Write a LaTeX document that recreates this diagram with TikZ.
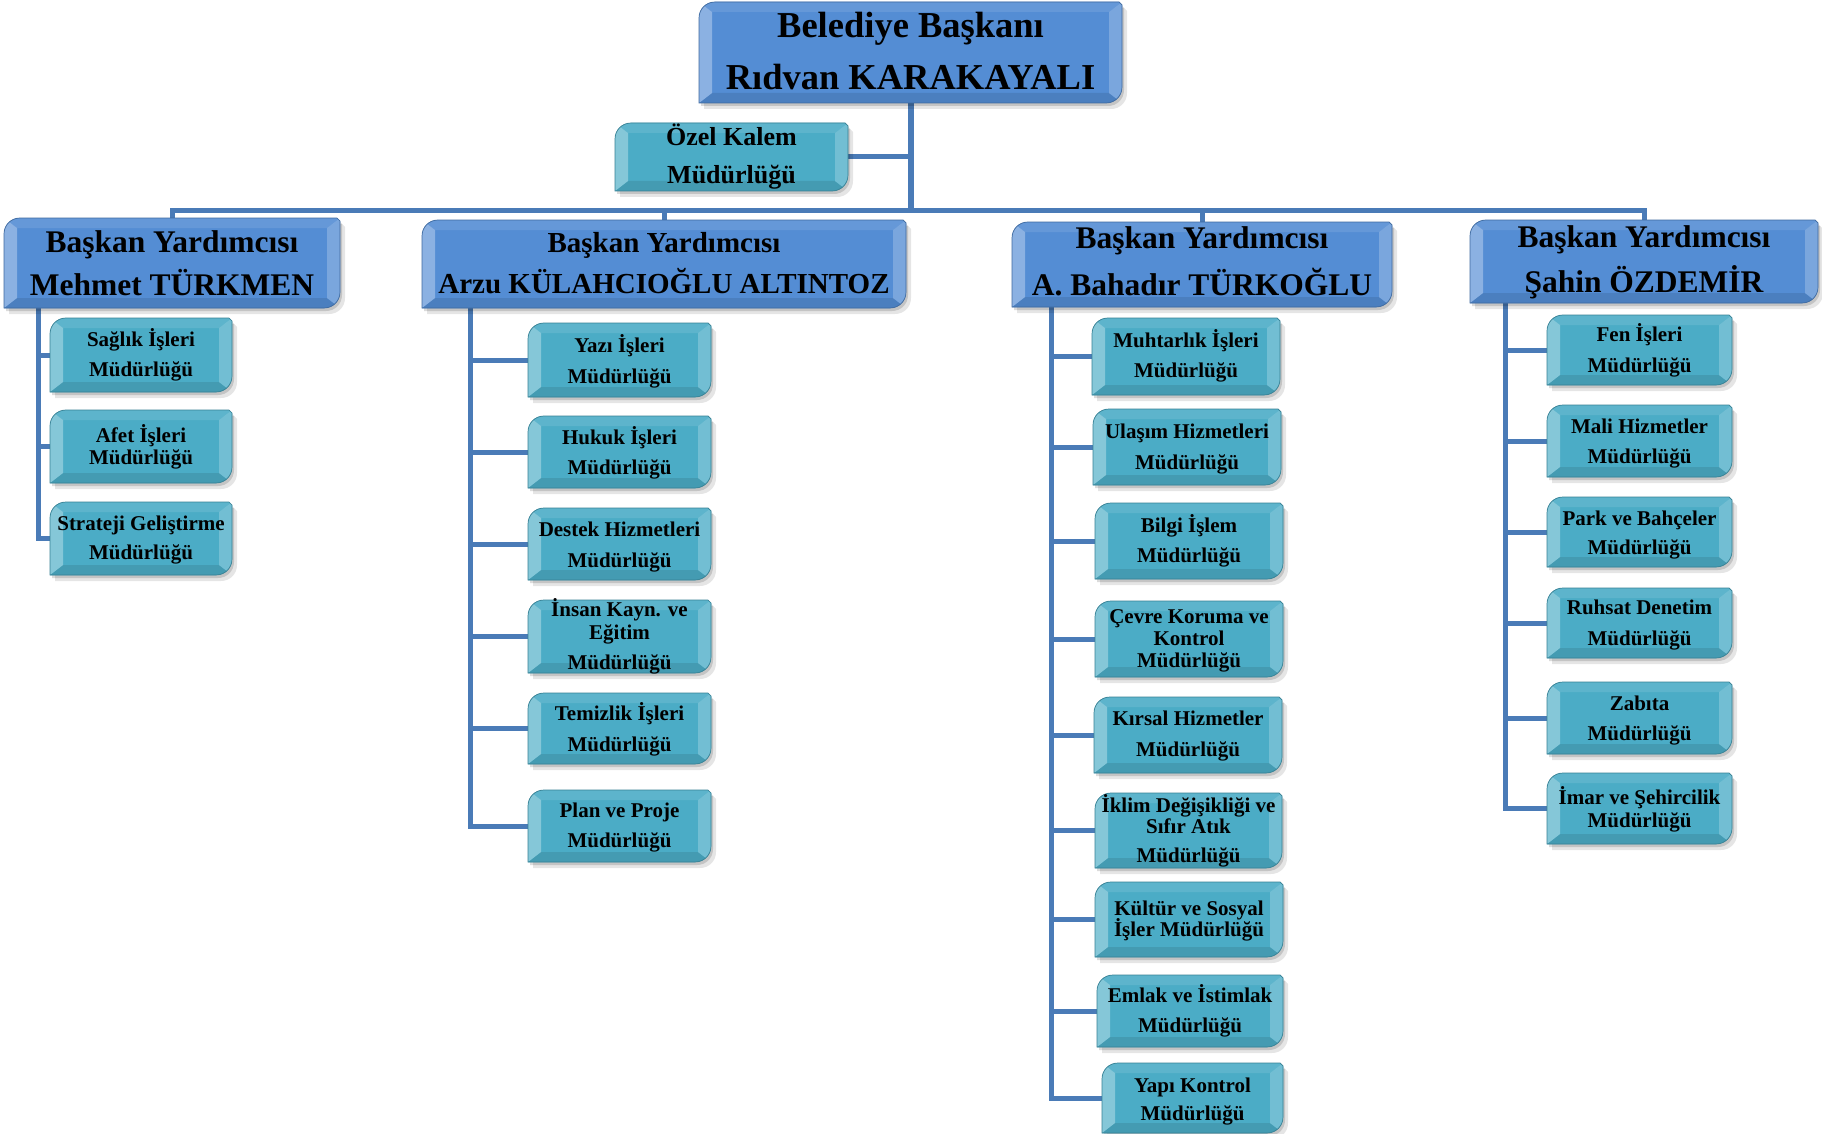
\documentclass[tikz,border=0pt]{standalone}
\usepackage{fontspec}
\setmainfont{Liberation Serif}
\usetikzlibrary{calc}
\definecolor{lvcol}{HTML}{548DD4}
\definecolor{chcol}{HTML}{4BACC6}
\definecolor{lncol}{HTML}{4A7BB7}
\pgfdeclarelayer{bgw}\pgfdeclarelayer{conn}\pgfdeclarelayer{bg}
\pgfsetlayers{bgw,conn,bg,main}
\def\rr{16pt}\def\rc{7pt}\def\bdx{13pt}\def\bdy{10pt}
\newcommand\shp[1]{($(#1.north west)+(0pt,-\rr)$) .. controls ($(#1.north west)+(0pt,-\rc)$) and ($(#1.north west)+(\rc,0pt)$) .. ($(#1.north west)+(\rr,0pt)$) -- ($(#1.north east)+(-3pt,0pt)$) -- ($(#1.north east)+(0pt,-3pt)$) -- ($(#1.south east)+(0pt,\rr)$) .. controls ($(#1.south east)+(0pt,\rc)$) and ($(#1.south east)+(-\rc,0pt)$) .. ($(#1.south east)+(-\rr,0pt)$) -- (#1.south west) -- cycle}
\newcommand\bev[2]{%
 \begin{pgfonlayer}{bg}
  \fill[black,opacity=.10,transform canvas={xshift=5pt,yshift=-6pt}] \shp{#1};
  \fill[black,opacity=.14,transform canvas={xshift=2pt,yshift=-3pt}] \shp{#1};
  \fill[#2] \shp{#1};
  \begin{scope}
   \clip \shp{#1};
   \fill[#2!90!white] (#1.north west) -- (#1.north east) -- ($(#1.north east)+(-\bdx,-\bdy)$) -- ($(#1.north west)+(\bdx,-\bdy)$) -- cycle;
   \fill[#2!90!black] (#1.south west) -- (#1.south east) -- ($(#1.south east)+(-\bdx,\bdy)$) -- ($(#1.south west)+(\bdx,\bdy)$) -- cycle;
   \fill[#2!68!white] (#1.north west) -- ($(#1.north west)+(\bdx,-\bdy)$) -- ($(#1.south west)+(\bdx,\bdy)$) -- (#1.south west) -- cycle;
   \fill[#2!78!white] (#1.north east) -- ($(#1.north east)+(-\bdx,-\bdy)$) -- ($(#1.south east)+(-\bdx,\bdy)$) -- (#1.south east) -- cycle;
  \end{scope}
  \draw[#2!75!black,line width=.7pt] \shp{#1};
 \end{pgfonlayer}}
\newcommand\bx[8]{%
 \node[#1,minimum width=#5pt,minimum height=#6pt] (#3) at (#4)
  {\raisebox{#7pt}{\begin{tabular}[t]{@{}c@{}}#8\end{tabular}}};
 \bev{#3}{#2}}
\tikzset{
 boxbase/.style={rectangle,inner sep=0pt,outer sep=0pt,text height=0pt,text depth=0pt},
 topbox/.style={boxbase,font=\fontsize{36.5}{52}\selectfont\bfseries},
 ozelbox/.style={boxbase,font=\fontsize{26}{32}\selectfont\bfseries},
 lvbox/.style={boxbase,font=\fontsize{31.5}{43}\selectfont\bfseries},
 lvboxs/.style={boxbase,font=\fontsize{29}{41}\selectfont\bfseries},
 chbox/.style={boxbase,font=\fontsize{21}{30}\selectfont\bfseries},
 conn/.style={draw=lncol,line width=5pt},
}
\begin{document}
\begin{tikzpicture}[x=1pt,y=-1pt]
\begin{pgfonlayer}{bgw}\fill[white] (0,0) rectangle (1822,1134);\end{pgfonlayer}
\useasboundingbox (0,0) rectangle (1822,1134);
% top level
\bx{topbox}{lvcol}{top}{910.5,52.5}{423}{101}{14.5}{Belediye Başkanı\\Rıdvan KARAKAYALI}
\bx{ozelbox}{chcol}{ozel}{731.5,157}{233}{68}{11}{Özel Kalem\\[6pt]Müdürlüğü}
% deputies
\bx{lvbox}{lvcol}{mehmet}{172,263}{336}{90}{11}{Başkan Yardımcısı\\Mehmet TÜRKMEN}
\bx{lvboxs}{lvcol}{arzu}{664,264}{484}{88}{12}{Başkan Yardımcısı\\Arzu KÜLAHCIOĞLU ALTINTOZ}
\bx{lvbox}{lvcol}{bahadir}{1202,264.5}{380}{85}{16.5}{Başkan Yardımcısı\\[4pt]A. Bahadır TÜRKOĞLU}
\bx{lvbox}{lvcol}{sahin}{1644,261.5}{348}{83}{14.5}{Başkan Yardımcısı\\[2pt]Şahin ÖZDEMİR}
% Mehmet
\bx{chbox}{chcol}{sag}{141,355}{182}{74}{9}{Sağlık İşleri\\Müdürlüğü}
\bx{chbox}{chcol}{afet}{141,446.5}{182}{73}{4.5}{Afet İşleri\\[-8pt]Müdürlüğü}
\bx{chbox}{chcol}{stra}{141,538.5}{182}{73}{8.5}{Strateji Geliştirme\\[-1pt]Müdürlüğü}
% Arzu
\bx{chbox}{chcol}{yazi}{619.5,360}{183}{74}{8}{Yazı İşleri\\[1pt]Müdürlüğü}
\bx{chbox}{chcol}{hukuk}{619.5,452}{183}{72}{8}{Hukuk İşleri\\Müdürlüğü}
\bx{chbox}{chcol}{destek}{619.5,544}{183}{72}{8}{Destek Hizmetleri\\[1pt]Müdürlüğü}
\bx{chbox}{chcol}{insan}{619.5,636.5}{183}{73}{20.5}{İnsan Kayn. ve\\[-7pt]Eğitim\\Müdürlüğü}
\bx{chbox}{chcol}{temiz}{619.5,728.5}{183}{71}{8.5}{Temizlik İşleri\\[1pt]Müdürlüğü}
\bx{chbox}{chcol}{plan}{619.5,826}{183}{72}{9}{Plan ve Proje\\Müdürlüğü}
% Bahadir
\bx{chbox}{chcol}{muhtar}{1186,356.5}{188}{77}{9.5}{Muhtarlık İşleri\\Müdürlüğü}
\bx{chbox}{chcol}{ulasim}{1187,447}{188}{76}{9}{Ulaşım Hizmetleri\\[1pt]Müdürlüğü}
\bx{chbox}{chcol}{bilgi}{1189,541}{188}{76}{9}{Bilgi İşlem\\Müdürlüğü}
\bx{chbox}{chcol}{cevre}{1189,639}{188}{76}{16}{Çevre Koruma ve\\[-8pt]Kontrol\\[-8pt]Müdürlüğü}
\bx{chbox}{chcol}{kirsal}{1188,735}{188}{76}{10}{Kırsal Hizmetler\\[1pt]Müdürlüğü}
\bx{chbox}{chcol}{iklim}{1188.5,830.5}{187}{75}{18.5}{İklim Değişikliği ve\\[-9pt]Sıfır Atık\\[-1pt]Müdürlüğü}
\bx{chbox}{chcol}{kultur}{1189,919.5}{188}{75}{4.5}{Kültür ve Sosyal\\[-9pt]İşler Müdürlüğü}
\bx{chbox}{chcol}{emlak}{1190,1011}{186}{72}{9}{Emlak ve İstimlak\\Müdürlüğü}
\bx{chbox}{chcol}{yapi}{1192.5,1098}{181}{70}{6}{Yapı Kontrol\\[-2pt]Müdürlüğü}
% Sahin
\bx{chbox}{chcol}{fen}{1639.5,350}{185}{70}{9}{Fen İşleri\\[1pt]Müdürlüğü}
\bx{chbox}{chcol}{mali}{1639.5,441}{185}{72}{8}{Mali Hizmetler\\Müdürlüğü}
\bx{chbox}{chcol}{park}{1639.5,532}{185}{70}{7}{Park ve Bahçeler\\[-1pt]Müdürlüğü}
\bx{chbox}{chcol}{ruhsat}{1639.5,623}{185}{70}{9}{Ruhsat Denetim\\[1pt]Müdürlüğü}
\bx{chbox}{chcol}{zabita}{1639.5,718}{185}{72}{8}{Zabıta\\Müdürlüğü}
\bx{chbox}{chcol}{imar}{1639.5,808.5}{185}{71}{4.5}{İmar ve Şehircilik\\[-7pt]Müdürlüğü}
% connectors
\begin{pgfonlayer}{conn}
 \coordinate (bar) at (0,210);
 \draw[conn,line width=6pt] (top.south) -- (top.south |- bar);
 \draw[conn] (ozel.east) -- (ozel.east -| top.south);
 \draw[conn] (mehmet.north) -- (mehmet.north |- bar) -- (sahin.north |- bar) -- (sahin.north);
 \draw[conn] (arzu.north) -- (arzu.north |- bar);
 \draw[conn] (bahadir.north) -- (bahadir.north |- bar);
 \coordinate (mS) at ($(mehmet.south west)+(34pt,0pt)$);
 \draw[conn] (mS) |- (stra.west);
 \foreach \n in {sag,afet} \draw[conn] (\n.west) -- (\n.west -| mS);
 \coordinate (aS) at ($(arzu.south west)+(48pt,0pt)$);
 \draw[conn] (aS) |- (plan.west);
 \foreach \n in {yazi,hukuk,destek,insan,temiz} \draw[conn] (\n.west) -- (\n.west -| aS);
 \coordinate (bS) at ($(bahadir.south west)+(39pt,0pt)$);
 \draw[conn] (bS) |- (yapi.west);
 \foreach \n in {muhtar,ulasim,bilgi,cevre,kirsal,iklim,kultur,emlak} \draw[conn] (\n.west) -- (\n.west -| bS);
 \coordinate (sS) at ($(sahin.south west)+(35pt,0pt)$);
 \draw[conn] (sS) |- (imar.west);
 \foreach \n in {fen,mali,park,ruhsat,zabita} \draw[conn] (\n.west) -- (\n.west -| sS);
\end{pgfonlayer}
\end{tikzpicture}
\end{document}
